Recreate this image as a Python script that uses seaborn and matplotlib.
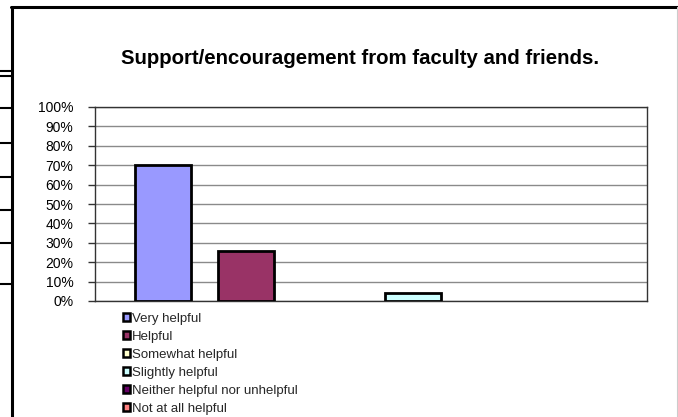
import matplotlib
matplotlib.use('Agg')
import matplotlib.pyplot as plt
import seaborn as sns
import pandas as pd
from matplotlib.lines import Line2D
from matplotlib.patches import Patch

# ---- data ----
title = "Support/encouragement from faculty and friends."
category = ["Support/encouragement"]
series = ["Very helpful", "Helpful", "Somewhat helpful", "Slightly helpful",
          "Neither helpful nor unhelpful", "Not at all helpful"]
values = [70, 26, 0, 4, 0, 0]
colors = ["#9999FF", "#993366", "#FFFFCC", "#CCFFFF", "#660066", "#FF8080"]
ytick_values = [0, 10, 20, 30, 40, 50, 60, 70, 80, 90, 100]
ytick_labels = [f"{v}%" for v in ytick_values]

df = pd.DataFrame({"group": category * len(series), "series": series, "value": values})

sns.set_theme(style="white")
plt.rcParams['font.family'] = ['Liberation Sans', 'DejaVu Sans']

W, H = 678, 417
fig = plt.figure(figsize=(W / 100, H / 100), dpi=100)
fig.patch.set_facecolor('white')

L, R, T, B = 95, 647, 107, 301
ax = fig.add_axes([L / W, 1 - B / H, (R - L) / W, (B - T) / H])

sns.barplot(data=df, x="group", y="value", hue="series", hue_order=series,
            palette=colors, saturation=1, width=0.8, edgecolor="black",
            linewidth=2, legend=False, ax=ax, zorder=3)

frac = 56 / 83
for p in ax.patches:
    w = p.get_width()
    x0 = p.get_x()
    p.set_x(x0 + w * (1 - frac) / 2)
    p.set_width(w * frac)
    if p.get_height() == 0:
        p.set_visible(False)

ax.set_xlim(-0.4433, 0.4433)
ax.set_ylim(0, 100)
ax.set_yticks(ytick_values)
ax.set_yticklabels(ytick_labels)
ax.set_xticks([])
ax.set_xlabel("")
ax.set_ylabel("")
ax.yaxis.grid(True, color="#8a8a8a", linewidth=1)
ax.set_axisbelow(True)
for s in ax.spines.values():
    s.set_visible(True)
    s.set_color("#333333")
    s.set_linewidth(1)
ax.tick_params(axis='y', direction='out', length=5, width=1, color='#333333',
               labelsize=10, pad=10.5, left=True, labelcolor='black')
ax.set_facecolor('white')

fig.text(360 / W, 1 - 58 / H, title, ha='center', va='center',
         fontsize=14.7, fontweight='bold', color='black')

handles = [Patch(facecolor=c, edgecolor='black', linewidth=1.8) for c in colors]
fig.legend(handles, series, loc='upper left',
           bbox_to_anchor=(123 / W, 1 - 313 / H), frameon=False,
           handlelength=0.55, handleheight=0.55, handletextpad=0.15,
           labelspacing=0.45, fontsize=9.55, borderpad=0, borderaxespad=0)

# outer frame lines
fig.add_artist(Line2D([11 / W, 678 / W], [1 - 7 / H] * 2, transform=fig.transFigure,
                      color='black', linewidth=2.2))
fig.add_artist(Line2D([11.5 / W] * 2, [1 - 7 / H, 0], transform=fig.transFigure,
                      color='black', linewidth=2.2))
fig.add_artist(Line2D([677 / W] * 2, [1 - 7 / H, 0], transform=fig.transFigure,
                      color='#cccccc', linewidth=0.8))
for yy in [71, 76, 108, 143, 177, 210, 243, 284]:
    fig.add_artist(Line2D([0, 11 / W], [1 - yy / H] * 2, transform=fig.transFigure,
                          color='black', linewidth=1.5))

fig.savefig("out.png", dpi=100, facecolor='white')
